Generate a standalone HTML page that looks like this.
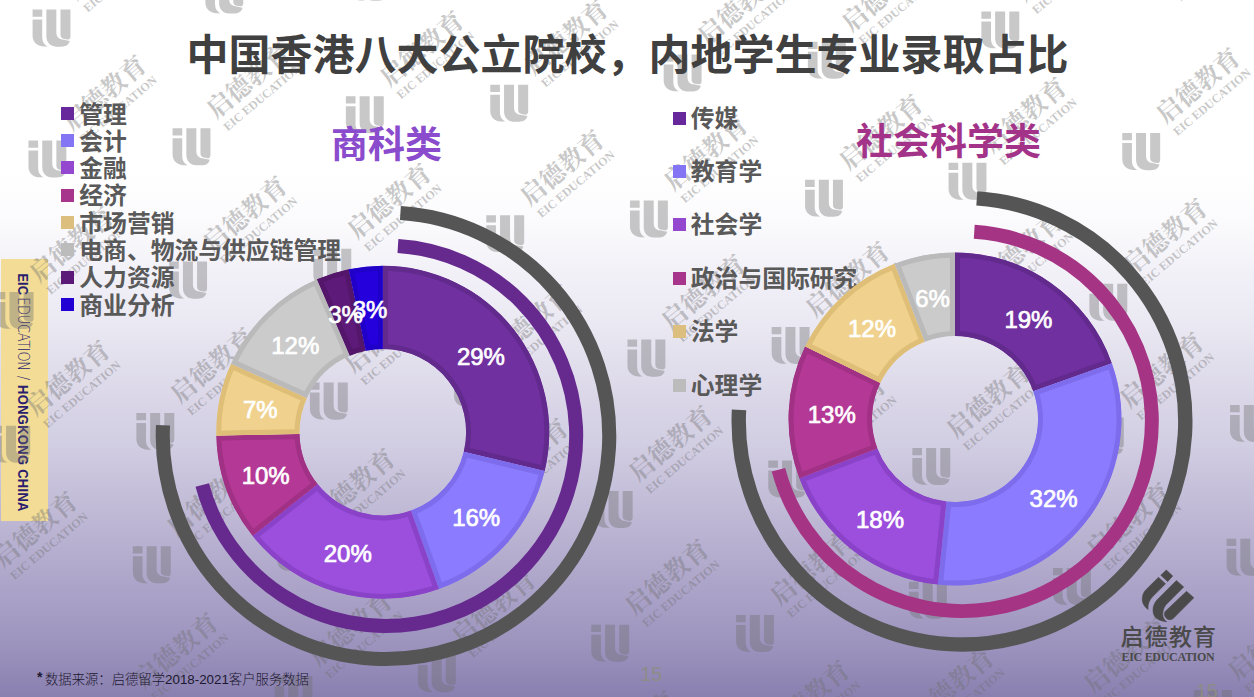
<!DOCTYPE html>
<html lang="zh-CN">
<head>
<meta charset="utf-8">
<title>中国香港八大公立院校，内地学生专业录取占比</title>
<style>
*{margin:0;padding:0;box-sizing:border-box;}
html,body{width:1254px;height:697px;overflow:hidden;}
body{position:relative;background:#fff;font-family:"Liberation Sans","Noto Sans CJK SC",sans-serif;}
#bg{position:absolute;left:0;top:0;width:1254px;height:697px;
 background:linear-gradient(to bottom,#ffffff 0px,#ffffff 170px,rgb(251,251,253) 220px,rgb(240,238,246) 285px,rgb(234,232,242) 325px,rgb(217,213,231) 405px,rgb(212,208,228) 435px,rgb(192,186,214) 510px,rgb(158,149,191) 640px,rgb(138,128,176) 697px);}
#bar{position:absolute;left:1px;top:259px;width:47px;height:262px;background:#f2dc96;}
#bartext{position:absolute;left:23px;top:273px;width:0;height:0;}
#bartext span.in{position:absolute;left:0;top:-7.5px;transform-origin:0 7.5px;transform:rotate(90deg) scaleX(0.86);white-space:nowrap;
 font-family:"Liberation Sans","DejaVu Sans",sans-serif;font-size:15px;color:#2a1d6e;line-height:15px;}
#bartext b{font-weight:bold;}
#bartext b:last-child{letter-spacing:0.4px;}
#bartext i{font-style:normal;font-weight:200;font-family:"DejaVu Sans",sans-serif;letter-spacing:-0.3px;}
#bartext i.sl{margin:0 6px;}
.abs{position:absolute;white-space:nowrap;}
#title{left:186.5px;top:20.5px;font-size:42px;font-weight:bold;color:#404040;font-family:"Liberation Sans","Noto Sans CJK SC",sans-serif;letter-spacing:0px;}
.sub{font-size:37px;font-weight:bold;font-family:"Liberation Sans","Noto Sans CJK SC",sans-serif;}
#sub1{left:331px;top:114.5px;color:#8a4bcc;}
#sub2{left:856px;top:112px;color:#a23389;}
.lt{position:absolute;letter-spacing:0px;font-size:23.8px;font-weight:bold;color:#595959;font-family:"Liberation Sans","Noto Sans CJK SC",sans-serif;white-space:nowrap;line-height:24px;}
.lm{position:absolute;width:13.2px;height:13px;}
svg{position:absolute;left:0;top:0;}
.wz{font-family:"Liberation Serif","Noto Serif CJK SC",serif;font-size:25px;font-weight:bold;}
.we{font-family:"Liberation Serif",serif;font-size:12px;font-weight:bold;}
.lbl{font-family:"Liberation Sans",sans-serif;font-weight:normal;font-size:24px;fill:#fff;stroke:#fff;stroke-width:0.7px;text-anchor:middle;}
#foot{left:37px;top:669px;font-size:13.35px;font-weight:300;color:#1c1830;font-family:"Liberation Sans","Noto Sans CJK SC",sans-serif;}
#foot sup{font-size:14px;font-weight:bold;vertical-align:2px;margin-right:2.5px;}
#pg{left:640.5px;top:663px;font-size:19.5px;color:#8d8c88;font-family:"Liberation Sans",sans-serif;}
#pg2{left:1196px;top:680px;font-size:19.5px;color:#8d8c88;font-family:"Liberation Sans",sans-serif;}
#logo1{left:1120.5px;top:622px;font-size:23px;line-height:30px;font-weight:500;color:#4a4a4a;font-family:"Liberation Sans","Noto Sans CJK SC",sans-serif;letter-spacing:1.2px;}
#logo2{left:1121.5px;top:650px;font-size:12px;line-height:14px;font-weight:bold;color:#4a4a4a;font-family:"Liberation Serif",serif;letter-spacing:-0.3px;}
</style>
</head>
<body>
<div id="bg"></div>
<div id="bar"></div>
<div id="bartext"><span class="in"><b>EIC</b><i style="margin-left:2.5px">EDUCATION</i><i class="sl">/</i><b>HONGKONG CHINA</b></span></div>
<svg class="wm" width="1254" height="697" viewBox="0 0 1254 697">
<g fill="#6e6e6e" fill-opacity="0.38">
<path transform="translate(-45.0,571.5) scale(0.06887)" d="M65,80H205V185H65ZM65,225H205V470C205,545 230,585 285,615H215C120,605 65,545 65,460ZM265,80H410V410C410,470 440,505 500,515L605,535C590,590 550,618 480,618H410C320,618 265,555 265,465ZM470,80H615V470C615,500 600,515 575,515L520,505C490,495 470,480 470,450Z"/>
<path transform="translate(-48.4,705.3) scale(0.06887)" d="M65,80H205V185H65ZM65,225H205V470C205,545 230,585 285,615H215C120,605 65,545 65,460ZM265,80H410V410C410,470 440,505 500,515L605,535C590,590 550,618 480,618H410C320,618 265,555 265,465ZM470,80H615V470C615,500 600,515 575,515L520,505C490,495 470,480 470,450Z"/>
<path transform="translate(95.7,692.6) scale(0.06887)" d="M65,80H205V185H65ZM65,225H205V470C205,545 230,585 285,615H215C120,605 65,545 65,460ZM265,80H410V410C410,470 440,505 500,515L605,535C590,590 550,618 480,618H410C320,618 265,555 265,465ZM470,80H615V470C615,500 600,515 575,515L520,505C490,495 470,480 470,450Z"/>
<path transform="translate(-8.8,286.4) scale(0.06887)" d="M65,80H205V185H65ZM65,225H205V470C205,545 230,585 285,615H215C120,605 65,545 65,460ZM265,80H410V410C410,470 440,505 500,515L605,535C590,590 550,618 480,618H410C320,618 265,555 265,465ZM470,80H615V470C615,500 600,515 575,515L520,505C490,495 470,480 470,450Z"/>
<path transform="translate(-12.2,420.2) scale(0.06887)" d="M65,80H205V185H65ZM65,225H205V470C205,545 230,585 285,615H215C120,605 65,545 65,460ZM265,80H410V410C410,470 440,505 500,515L605,535C590,590 550,618 480,618H410C320,618 265,555 265,465ZM470,80H615V470C615,500 600,515 575,515L520,505C490,495 470,480 470,450Z"/>
<path transform="translate(131.9,407.4) scale(0.06887)" d="M65,80H205V185H65ZM65,225H205V470C205,545 230,585 285,615H215C120,605 65,545 65,460ZM265,80H410V410C410,470 440,505 500,515L605,535C590,590 550,618 480,618H410C320,618 265,555 265,465ZM470,80H615V470C615,500 600,515 575,515L520,505C490,495 470,480 470,450Z"/>
<path transform="translate(128.4,540.8) scale(0.06887)" d="M65,80H205V185H65ZM65,225H205V470C205,545 230,585 285,615H215C120,605 65,545 65,460ZM265,80H410V410C410,470 440,505 500,515L605,535C590,590 550,618 480,618H410C320,618 265,555 265,465ZM470,80H615V470C615,500 600,515 575,515L520,505C490,495 470,480 470,450Z"/>
<path transform="translate(272.7,528.5) scale(0.06887)" d="M65,80H205V185H65ZM65,225H205V470C205,545 230,585 285,615H215C120,605 65,545 65,460ZM265,80H410V410C410,470 440,505 500,515L605,535C590,590 550,618 480,618H410C320,618 265,555 265,465ZM470,80H615V470C615,500 600,515 575,515L520,505C490,495 470,480 470,450Z"/>
<path transform="translate(270.1,670.6) scale(0.06887)" d="M65,80H205V185H65ZM65,225H205V470C205,545 230,585 285,615H215C120,605 65,545 65,460ZM265,80H410V410C410,470 440,505 500,515L605,535C590,590 550,618 480,618H410C320,618 265,555 265,465ZM470,80H615V470C615,500 600,515 575,515L520,505C490,495 470,480 470,450Z"/>
<path transform="translate(413.4,649.6) scale(0.06887)" d="M65,80H205V185H65ZM65,225H205V470C205,545 230,585 285,615H215C120,605 65,545 65,460ZM265,80H410V410C410,470 440,505 500,515L605,535C590,590 550,618 480,618H410C320,618 265,555 265,465ZM470,80H615V470C615,500 600,515 575,515L520,505C490,495 470,480 470,450Z"/>
<path transform="translate(28.1,4.1) scale(0.06887)" d="M65,80H205V185H65ZM65,225H205V470C205,545 230,585 285,615H215C120,605 65,545 65,460ZM265,80H410V410C410,470 440,505 500,515L605,535C590,590 550,618 480,618H410C320,618 265,555 265,465ZM470,80H615V470C615,500 600,515 575,515L520,505C490,495 470,480 470,450Z"/>
<path transform="translate(24.0,135.0) scale(0.06887)" d="M65,80H205V185H65ZM65,225H205V470C205,545 230,585 285,615H215C120,605 65,545 65,460ZM265,80H410V410C410,470 440,505 500,515L605,535C590,590 550,618 480,618H410C320,618 265,555 265,465ZM470,80H615V470C615,500 600,515 575,515L520,505C490,495 470,480 470,450Z"/>
<path transform="translate(168.1,122.8) scale(0.06887)" d="M65,80H205V185H65ZM65,225H205V470C205,545 230,585 285,615H215C120,605 65,545 65,460ZM265,80H410V410C410,470 440,505 500,515L605,535C590,590 550,618 480,618H410C320,618 265,555 265,465ZM470,80H615V470C615,500 600,515 575,515L520,505C490,495 470,480 470,450Z"/>
<path transform="translate(164.7,256.1) scale(0.06887)" d="M65,80H205V185H65ZM65,225H205V470C205,545 230,585 285,615H215C120,605 65,545 65,460ZM265,80H410V410C410,470 440,505 500,515L605,535C590,590 550,618 480,618H410C320,618 265,555 265,465ZM470,80H615V470C615,500 600,515 575,515L520,505C490,495 470,480 470,450Z"/>
<path transform="translate(308.9,243.3) scale(0.06887)" d="M65,80H205V185H65ZM65,225H205V470C205,545 230,585 285,615H215C120,605 65,545 65,460ZM265,80H410V410C410,470 440,505 500,515L605,535C590,590 550,618 480,618H410C320,618 265,555 265,465ZM470,80H615V470C615,500 600,515 575,515L520,505C490,495 470,480 470,450Z"/>
<path transform="translate(305.4,377.1) scale(0.06887)" d="M65,80H205V185H65ZM65,225H205V470C205,545 230,585 285,615H215C120,605 65,545 65,460ZM265,80H410V410C410,470 440,505 500,515L605,535C590,590 550,618 480,618H410C320,618 265,555 265,465ZM470,80H615V470C615,500 600,515 575,515L520,505C490,495 470,480 470,450Z"/>
<path transform="translate(449.6,364.4) scale(0.06887)" d="M65,80H205V185H65ZM65,225H205V470C205,545 230,585 285,615H215C120,605 65,545 65,460ZM265,80H410V410C410,470 440,505 500,515L605,535C590,590 550,618 480,618H410C320,618 265,555 265,465ZM470,80H615V470C615,500 600,515 575,515L520,505C490,495 470,480 470,450Z"/>
<path transform="translate(446.1,498.2) scale(0.06887)" d="M65,80H205V185H65ZM65,225H205V470C205,545 230,585 285,615H215C120,605 65,545 65,460ZM265,80H410V410C410,470 440,505 500,515L605,535C590,590 550,618 480,618H410C320,618 265,555 265,465ZM470,80H615V470C615,500 600,515 575,515L520,505C490,495 470,480 470,450Z"/>
<path transform="translate(590.3,485.5) scale(0.06887)" d="M65,80H205V185H65ZM65,225H205V470C205,545 230,585 285,615H215C120,605 65,545 65,460ZM265,80H410V410C410,470 440,505 500,515L605,535C590,590 550,618 480,618H410C320,618 265,555 265,465ZM470,80H615V470C615,500 600,515 575,515L520,505C490,495 470,480 470,450Z"/>
<path transform="translate(586.8,619.2) scale(0.06887)" d="M65,80H205V185H65ZM65,225H205V470C205,545 230,585 285,615H215C120,605 65,545 65,460ZM265,80H410V410C410,470 440,505 500,515L605,535C590,590 550,618 480,618H410C320,618 265,555 265,465ZM470,80H615V470C615,500 600,515 575,515L520,505C490,495 470,480 470,450Z"/>
<path transform="translate(731.6,609.5) scale(0.06887)" d="M65,80H205V185H65ZM65,225H205V470C205,545 230,585 285,615H215C120,605 65,545 65,460ZM265,80H410V410C410,470 440,505 500,515L605,535C590,590 550,618 480,618H410C320,618 265,555 265,465ZM470,80H615V470C615,500 600,515 575,515L520,505C490,495 470,480 470,450Z"/>
<path transform="translate(200.9,-29.1) scale(0.06887)" d="M65,80H205V185H65ZM65,225H205V470C205,545 230,585 285,615H215C120,605 65,545 65,460ZM265,80H410V410C410,470 440,505 500,515L605,535C590,590 550,618 480,618H410C320,618 265,555 265,465ZM470,80H615V470C615,500 600,515 575,515L520,505C490,495 470,480 470,450Z"/>
<path transform="translate(345.1,-41.8) scale(0.06887)" d="M65,80H205V185H65ZM65,225H205V470C205,545 230,585 285,615H215C120,605 65,545 65,460ZM265,80H410V410C410,470 440,505 500,515L605,535C590,590 550,618 480,618H410C320,618 265,555 265,465ZM470,80H615V470C615,500 600,515 575,515L520,505C490,495 470,480 470,450Z"/>
<path transform="translate(341.4,90.8) scale(0.06887)" d="M65,80H205V185H65ZM65,225H205V470C205,545 230,585 285,615H215C120,605 65,545 65,460ZM265,80H410V410C410,470 440,505 500,515L605,535C590,590 550,618 480,618H410C320,618 265,555 265,465ZM470,80H615V470C615,500 600,515 575,515L520,505C490,495 470,480 470,450Z"/>
<path transform="translate(485.8,79.2) scale(0.06887)" d="M65,80H205V185H65ZM65,225H205V470C205,545 230,585 285,615H215C120,605 65,545 65,460ZM265,80H410V410C410,470 440,505 500,515L605,535C590,590 550,618 480,618H410C320,618 265,555 265,465ZM470,80H615V470C615,500 600,515 575,515L520,505C490,495 470,480 470,450Z"/>
<path transform="translate(481.8,209.7) scale(0.06887)" d="M65,80H205V185H65ZM65,225H205V470C205,545 230,585 285,615H215C120,605 65,545 65,460ZM265,80H410V410C410,470 440,505 500,515L605,535C590,590 550,618 480,618H410C320,618 265,555 265,465ZM470,80H615V470C615,500 600,515 575,515L520,505C490,495 470,480 470,450Z"/>
<path transform="translate(625.5,194.9) scale(0.06887)" d="M65,80H205V185H65ZM65,225H205V470C205,545 230,585 285,615H215C120,605 65,545 65,460ZM265,80H410V410C410,470 440,505 500,515L605,535C590,590 550,618 480,618H410C320,618 265,555 265,465ZM470,80H615V470C615,500 600,515 575,515L520,505C490,495 470,480 470,450Z"/>
<path transform="translate(623.0,334.1) scale(0.06887)" d="M65,80H205V185H65ZM65,225H205V470C205,545 230,585 285,615H215C120,605 65,545 65,460ZM265,80H410V410C410,470 440,505 500,515L605,535C590,590 550,618 480,618H410C320,618 265,555 265,465ZM470,80H615V470C615,500 600,515 575,515L520,505C490,495 470,480 470,450Z"/>
<path transform="translate(767.2,321.4) scale(0.06887)" d="M65,80H205V185H65ZM65,225H205V470C205,545 230,585 285,615H215C120,605 65,545 65,460ZM265,80H410V410C410,470 440,505 500,515L605,535C590,590 550,618 480,618H410C320,618 265,555 265,465ZM470,80H615V470C615,500 600,515 575,515L520,505C490,495 470,480 470,450Z"/>
<path transform="translate(763.8,455.1) scale(0.06887)" d="M65,80H205V185H65ZM65,225H205V470C205,545 230,585 285,615H215C120,605 65,545 65,460ZM265,80H410V410C410,470 440,505 500,515L605,535C590,590 550,618 480,618H410C320,618 265,555 265,465ZM470,80H615V470C615,500 600,515 575,515L520,505C490,495 470,480 470,450Z"/>
<path transform="translate(907.9,442.4) scale(0.06887)" d="M65,80H205V185H65ZM65,225H205V470C205,545 230,585 285,615H215C120,605 65,545 65,460ZM265,80H410V410C410,470 440,505 500,515L605,535C590,590 550,618 480,618H410C320,618 265,555 265,465ZM470,80H615V470C615,500 600,515 575,515L520,505C490,495 470,480 470,450Z"/>
<path transform="translate(904.5,576.2) scale(0.06887)" d="M65,80H205V185H65ZM65,225H205V470C205,545 230,585 285,615H215C120,605 65,545 65,460ZM265,80H410V410C410,470 440,505 500,515L605,535C590,590 550,618 480,618H410C320,618 265,555 265,465ZM470,80H615V470C615,500 600,515 575,515L520,505C490,495 470,480 470,450Z"/>
<path transform="translate(1048.5,562.5) scale(0.06887)" d="M65,80H205V185H65ZM65,225H205V470C205,545 230,585 285,615H215C120,605 65,545 65,460ZM265,80H410V410C410,470 440,505 500,515L605,535C590,590 550,618 480,618H410C320,618 265,555 265,465ZM470,80H615V470C615,500 600,515 575,515L520,505C490,495 470,480 470,450Z"/>
<path transform="translate(1045.2,697.3) scale(0.06887)" d="M65,80H205V185H65ZM65,225H205V470C205,545 230,585 285,615H215C120,605 65,545 65,460ZM265,80H410V410C410,470 440,505 500,515L605,535C590,590 550,618 480,618H410C320,618 265,555 265,465ZM470,80H615V470C615,500 600,515 575,515L520,505C490,495 470,480 470,450Z"/>
<path transform="translate(1189.4,684.5) scale(0.06887)" d="M65,80H205V185H65ZM65,225H205V470C205,545 230,585 285,615H215C120,605 65,545 65,460ZM265,80H410V410C410,470 440,505 500,515L605,535C590,590 550,618 480,618H410C320,618 265,555 265,465ZM470,80H615V470C615,500 600,515 575,515L520,505C490,495 470,480 470,450Z"/>
<path transform="translate(659.2,48.9) scale(0.06887)" d="M65,80H205V185H65ZM65,225H205V470C205,545 230,585 285,615H215C120,605 65,545 65,460ZM265,80H410V410C410,470 440,505 500,515L605,535C590,590 550,618 480,618H410C320,618 265,555 265,465ZM470,80H615V470C615,500 600,515 575,515L520,505C490,495 470,480 470,450Z"/>
<path transform="translate(803.4,36.2) scale(0.06887)" d="M65,80H205V185H65ZM65,225H205V470C205,545 230,585 285,615H215C120,605 65,545 65,460ZM265,80H410V410C410,470 440,505 500,515L605,535C590,590 550,618 480,618H410C320,618 265,555 265,465ZM470,80H615V470C615,500 600,515 575,515L520,505C490,495 470,480 470,450Z"/>
<path transform="translate(800.6,174.2) scale(0.06887)" d="M65,80H205V185H65ZM65,225H205V470C205,545 230,585 285,615H215C120,605 65,545 65,460ZM265,80H410V410C410,470 440,505 500,515L605,535C590,590 550,618 480,618H410C320,618 265,555 265,465ZM470,80H615V470C615,500 600,515 575,515L520,505C490,495 470,480 470,450Z"/>
<path transform="translate(944.1,157.3) scale(0.06887)" d="M65,80H205V185H65ZM65,225H205V470C205,545 230,585 285,615H215C120,605 65,545 65,460ZM265,80H410V410C410,470 440,505 500,515L605,535C590,590 550,618 480,618H410C320,618 265,555 265,465ZM470,80H615V470C615,500 600,515 575,515L520,505C490,495 470,480 470,450Z"/>
<path transform="translate(940.7,291.0) scale(0.06887)" d="M65,80H205V185H65ZM65,225H205V470C205,545 230,585 285,615H215C120,605 65,545 65,460ZM265,80H410V410C410,470 440,505 500,515L605,535C590,590 550,618 480,618H410C320,618 265,555 265,465ZM470,80H615V470C615,500 600,515 575,515L520,505C490,495 470,480 470,450Z"/>
<path transform="translate(1084.9,278.3) scale(0.06887)" d="M65,80H205V185H65ZM65,225H205V470C205,545 230,585 285,615H215C120,605 65,545 65,460ZM265,80H410V410C410,470 440,505 500,515L605,535C590,590 550,618 480,618H410C320,618 265,555 265,465ZM470,80H615V470C615,500 600,515 575,515L520,505C490,495 470,480 470,450Z"/>
<path transform="translate(1081.4,412.1) scale(0.06887)" d="M65,80H205V185H65ZM65,225H205V470C205,545 230,585 285,615H215C120,605 65,545 65,460ZM265,80H410V410C410,470 440,505 500,515L605,535C590,590 550,618 480,618H410C320,618 265,555 265,465ZM470,80H615V470C615,500 600,515 575,515L520,505C490,495 470,480 470,450Z"/>
<path transform="translate(1225.6,399.4) scale(0.06887)" d="M65,80H205V185H65ZM65,225H205V470C205,545 230,585 285,615H215C120,605 65,545 65,460ZM265,80H410V410C410,470 440,505 500,515L605,535C590,590 550,618 480,618H410C320,618 265,555 265,465ZM470,80H615V470C615,500 600,515 575,515L520,505C490,495 470,480 470,450Z"/>
<path transform="translate(1222.1,533.2) scale(0.06887)" d="M65,80H205V185H65ZM65,225H205V470C205,545 230,585 285,615H215C120,605 65,545 65,460ZM265,80H410V410C410,470 440,505 500,515L605,535C590,590 550,618 480,618H410C320,618 265,555 265,465ZM470,80H615V470C615,500 600,515 575,515L520,505C490,495 470,480 470,450Z"/>
<path transform="translate(976.9,5.9) scale(0.06887)" d="M65,80H205V185H65ZM65,225H205V470C205,545 230,585 285,615H215C120,605 65,545 65,460ZM265,80H410V410C410,470 440,505 500,515L605,535C590,590 550,618 480,618H410C320,618 265,555 265,465ZM470,80H615V470C615,500 600,515 575,515L520,505C490,495 470,480 470,450Z"/>
<path transform="translate(1117.8,127.6) scale(0.06887)" d="M65,80H205V185H65ZM65,225H205V470C205,545 230,585 285,615H215C120,605 65,545 65,460ZM265,80H410V410C410,470 440,505 500,515L605,535C590,590 550,618 480,618H410C320,618 265,555 265,465ZM470,80H615V470C615,500 600,515 575,515L520,505C490,495 470,480 470,450Z"/>
<path transform="translate(1261.8,114.2) scale(0.06887)" d="M65,80H205V185H65ZM65,225H205V470C205,545 230,585 285,615H215C120,605 65,545 65,460ZM265,80H410V410C410,470 440,505 500,515L605,535C590,590 550,618 480,618H410C320,618 265,555 265,465ZM470,80H615V470C615,500 600,515 575,515L520,505C490,495 470,480 470,450Z"/>
<path transform="translate(1258.3,248.0) scale(0.06887)" d="M65,80H205V185H65ZM65,225H205V470C205,545 230,585 285,615H215C120,605 65,545 65,460ZM265,80H410V410C410,470 440,505 500,515L605,535C590,590 550,618 480,618H410C320,618 265,555 265,465ZM470,80H615V470C615,500 600,515 575,515L520,505C490,495 470,480 470,450Z"/>
</g>
<g fill="#6e6e6e" fill-opacity="0.38" text-anchor="middle">
<g transform="translate(35.3,529.5) rotate(-40)"><text y="9" class="wz">启德教育</text><text y="25.5" class="we">EIC EDUCATION</text></g>
<g transform="translate(176.1,650.6) rotate(-40)"><text y="9" class="wz">启德教育</text><text y="25.5" class="we">EIC EDUCATION</text></g>
<g transform="translate(71.5,244.4) rotate(-40)"><text y="9" class="wz">启德教育</text><text y="25.5" class="we">EIC EDUCATION</text></g>
<g transform="translate(68.1,378.1) rotate(-40)"><text y="9" class="wz">启德教育</text><text y="25.5" class="we">EIC EDUCATION</text></g>
<g transform="translate(212.3,365.4) rotate(-40)"><text y="9" class="wz">启德教育</text><text y="25.5" class="we">EIC EDUCATION</text></g>
<g transform="translate(208.7,498.8) rotate(-40)"><text y="9" class="wz">启德教育</text><text y="25.5" class="we">EIC EDUCATION</text></g>
<g transform="translate(353.0,486.5) rotate(-40)"><text y="9" class="wz">启德教育</text><text y="25.5" class="we">EIC EDUCATION</text></g>
<g transform="translate(350.4,628.6) rotate(-40)"><text y="9" class="wz">启德教育</text><text y="25.5" class="we">EIC EDUCATION</text></g>
<g transform="translate(493.7,607.5) rotate(-40)"><text y="9" class="wz">启德教育</text><text y="25.5" class="we">EIC EDUCATION</text></g>
<g transform="translate(490.2,741.3) rotate(-40)"><text y="9" class="wz">启德教育</text><text y="25.5" class="we">EIC EDUCATION</text></g>
<g transform="translate(634.4,728.6) rotate(-40)"><text y="9" class="wz">启德教育</text><text y="25.5" class="we">EIC EDUCATION</text></g>
<g transform="translate(-36.4,-28.1) rotate(-40)"><text y="9" class="wz">启德教育</text><text y="25.5" class="we">EIC EDUCATION</text></g>
<g transform="translate(108.4,-37.9) rotate(-40)"><text y="9" class="wz">启德教育</text><text y="25.5" class="we">EIC EDUCATION</text></g>
<g transform="translate(104.3,93.0) rotate(-40)"><text y="9" class="wz">启德教育</text><text y="25.5" class="we">EIC EDUCATION</text></g>
<g transform="translate(248.4,80.8) rotate(-40)"><text y="9" class="wz">启德教育</text><text y="25.5" class="we">EIC EDUCATION</text></g>
<g transform="translate(245.0,214.0) rotate(-40)"><text y="9" class="wz">启德教育</text><text y="25.5" class="we">EIC EDUCATION</text></g>
<g transform="translate(389.2,201.3) rotate(-40)"><text y="9" class="wz">启德教育</text><text y="25.5" class="we">EIC EDUCATION</text></g>
<g transform="translate(385.7,335.1) rotate(-40)"><text y="9" class="wz">启德教育</text><text y="25.5" class="we">EIC EDUCATION</text></g>
<g transform="translate(529.9,322.4) rotate(-40)"><text y="9" class="wz">启德教育</text><text y="25.5" class="we">EIC EDUCATION</text></g>
<g transform="translate(526.4,456.2) rotate(-40)"><text y="9" class="wz">启德教育</text><text y="25.5" class="we">EIC EDUCATION</text></g>
<g transform="translate(670.6,443.5) rotate(-40)"><text y="9" class="wz">启德教育</text><text y="25.5" class="we">EIC EDUCATION</text></g>
<g transform="translate(667.1,577.2) rotate(-40)"><text y="9" class="wz">启德教育</text><text y="25.5" class="we">EIC EDUCATION</text></g>
<g transform="translate(811.9,567.5) rotate(-40)"><text y="9" class="wz">启德教育</text><text y="25.5" class="we">EIC EDUCATION</text></g>
<g transform="translate(807.9,698.3) rotate(-40)"><text y="9" class="wz">启德教育</text><text y="25.5" class="we">EIC EDUCATION</text></g>
<g transform="translate(952.1,685.6) rotate(-40)"><text y="9" class="wz">启德教育</text><text y="25.5" class="we">EIC EDUCATION</text></g>
<g transform="translate(421.7,48.8) rotate(-40)"><text y="9" class="wz">启德教育</text><text y="25.5" class="we">EIC EDUCATION</text></g>
<g transform="translate(566.1,37.2) rotate(-40)"><text y="9" class="wz">启德教育</text><text y="25.5" class="we">EIC EDUCATION</text></g>
<g transform="translate(562.1,167.7) rotate(-40)"><text y="9" class="wz">启德教育</text><text y="25.5" class="we">EIC EDUCATION</text></g>
<g transform="translate(705.8,152.9) rotate(-40)"><text y="9" class="wz">启德教育</text><text y="25.5" class="we">EIC EDUCATION</text></g>
<g transform="translate(703.3,292.1) rotate(-40)"><text y="9" class="wz">启德教育</text><text y="25.5" class="we">EIC EDUCATION</text></g>
<g transform="translate(847.5,279.4) rotate(-40)"><text y="9" class="wz">启德教育</text><text y="25.5" class="we">EIC EDUCATION</text></g>
<g transform="translate(844.1,413.1) rotate(-40)"><text y="9" class="wz">启德教育</text><text y="25.5" class="we">EIC EDUCATION</text></g>
<g transform="translate(988.3,400.4) rotate(-40)"><text y="9" class="wz">启德教育</text><text y="25.5" class="we">EIC EDUCATION</text></g>
<g transform="translate(984.8,534.2) rotate(-40)"><text y="9" class="wz">启德教育</text><text y="25.5" class="we">EIC EDUCATION</text></g>
<g transform="translate(1128.8,520.5) rotate(-40)"><text y="9" class="wz">启德教育</text><text y="25.5" class="we">EIC EDUCATION</text></g>
<g transform="translate(1125.5,655.2) rotate(-40)"><text y="9" class="wz">启德教育</text><text y="25.5" class="we">EIC EDUCATION</text></g>
<g transform="translate(1269.7,642.5) rotate(-40)"><text y="9" class="wz">启德教育</text><text y="25.5" class="we">EIC EDUCATION</text></g>
<g transform="translate(739.5,6.9) rotate(-40)"><text y="9" class="wz">启德教育</text><text y="25.5" class="we">EIC EDUCATION</text></g>
<g transform="translate(883.7,-5.8) rotate(-40)"><text y="9" class="wz">启德教育</text><text y="25.5" class="we">EIC EDUCATION</text></g>
<g transform="translate(880.9,132.2) rotate(-40)"><text y="9" class="wz">启德教育</text><text y="25.5" class="we">EIC EDUCATION</text></g>
<g transform="translate(1024.5,115.2) rotate(-40)"><text y="9" class="wz">启德教育</text><text y="25.5" class="we">EIC EDUCATION</text></g>
<g transform="translate(1021.0,249.0) rotate(-40)"><text y="9" class="wz">启德教育</text><text y="25.5" class="we">EIC EDUCATION</text></g>
<g transform="translate(1165.2,236.3) rotate(-40)"><text y="9" class="wz">启德教育</text><text y="25.5" class="we">EIC EDUCATION</text></g>
<g transform="translate(1161.7,370.1) rotate(-40)"><text y="9" class="wz">启德教育</text><text y="25.5" class="we">EIC EDUCATION</text></g>
<g transform="translate(1305.9,357.4) rotate(-40)"><text y="9" class="wz">启德教育</text><text y="25.5" class="we">EIC EDUCATION</text></g>
<g transform="translate(1302.4,491.1) rotate(-40)"><text y="9" class="wz">启德教育</text><text y="25.5" class="we">EIC EDUCATION</text></g>
<g transform="translate(1057.2,-36.1) rotate(-40)"><text y="9" class="wz">启德教育</text><text y="25.5" class="we">EIC EDUCATION</text></g>
<g transform="translate(1201.4,-48.9) rotate(-40)"><text y="9" class="wz">启德教育</text><text y="25.5" class="we">EIC EDUCATION</text></g>
<g transform="translate(1198.1,85.6) rotate(-40)"><text y="9" class="wz">启德教育</text><text y="25.5" class="we">EIC EDUCATION</text></g>
</g></svg>
<div id="title" class="abs">中国香港八大公立院校，内地学生专业录取占比</div>
<div id="sub1" class="abs sub">商科类</div>
<div id="sub2" class="abs sub">社会科学类</div>
<div class="lm" style="left:60.6px;top:106.8px;background:#66289a"></div><div class="lt" style="left:79.3px;top:102.5px">管理</div>
<div class="lm" style="left:60.6px;top:134.1px;background:#8475f5"></div><div class="lt" style="left:79.3px;top:129.8px">会计</div>
<div class="lm" style="left:60.6px;top:161.4px;background:#9448d0"></div><div class="lt" style="left:79.3px;top:157.1px">金融</div>
<div class="lm" style="left:60.6px;top:188.7px;background:#a8358c"></div><div class="lt" style="left:79.3px;top:184.4px">经济</div>
<div class="lm" style="left:60.6px;top:216.0px;background:#dcbe7e"></div><div class="lt" style="left:79.3px;top:211.7px">市场营销</div>
<div class="lm" style="left:60.6px;top:243.3px;background:#bcbcbc"></div><div class="lt" style="left:79.3px;top:239.0px">电商、物流与供应链管理</div>
<div class="lm" style="left:60.6px;top:270.6px;background:#5c1a78"></div><div class="lt" style="left:79.3px;top:266.3px">人力资源</div>
<div class="lm" style="left:60.6px;top:297.9px;background:#2200d4"></div><div class="lt" style="left:79.3px;top:293.6px">商业分析</div>
<div class="lm" style="left:673.2px;top:111.5px;background:#66289a"></div><div class="lt" style="left:690.8px;top:106.5px">传媒</div>
<div class="lm" style="left:673.2px;top:164.9px;background:#8475f5"></div><div class="lt" style="left:690.8px;top:159.9px">教育学</div>
<div class="lm" style="left:673.2px;top:218.3px;background:#9448d0"></div><div class="lt" style="left:690.8px;top:213.3px">社会学</div>
<div class="lm" style="left:673.2px;top:271.7px;background:#a8358c"></div><div class="lt" style="left:690.8px;top:266.7px">政治与国际研究</div>
<div class="lm" style="left:673.2px;top:325.1px;background:#dcbe7e"></div><div class="lt" style="left:690.8px;top:320.1px">法学</div>
<div class="lm" style="left:673.2px;top:378.5px;background:#bcbcbc"></div><div class="lt" style="left:690.8px;top:373.5px">心理学</div>
<svg width="1254" height="697" viewBox="0 0 1254 697">
<clipPath id="L0"><path d="M382.80,265.70 A166.5,166.5 0 0 1 544.70,471.07 L463.80,451.65 A83.3,83.3 0 0 0 382.80,348.90 Z"/></clipPath>
<path d="M382.80,265.70 A166.5,166.5 0 0 1 544.70,471.07 L463.80,451.65 A83.3,83.3 0 0 0 382.80,348.90 Z" fill="#7030a0" stroke="#632a8e" stroke-width="10" clip-path="url(#L0)"/>
<clipPath id="L1"><path d="M544.70,471.07 A166.5,166.5 0 0 1 438.93,588.95 L410.88,510.62 A83.3,83.3 0 0 0 463.80,451.65 Z"/></clipPath>
<path d="M544.70,471.07 A166.5,166.5 0 0 1 438.93,588.95 L410.88,510.62 A83.3,83.3 0 0 0 463.80,451.65 Z" fill="#8b7bff" stroke="#7d6cec" stroke-width="10" clip-path="url(#L1)"/>
<clipPath id="L2"><path d="M438.93,588.95 A166.5,166.5 0 0 1 252.50,535.85 L317.61,484.06 A83.3,83.3 0 0 0 410.88,510.62 Z"/></clipPath>
<path d="M438.93,588.95 A166.5,166.5 0 0 1 252.50,535.85 L317.61,484.06 A83.3,83.3 0 0 0 410.88,510.62 Z" fill="#9b4fdc" stroke="#8a43c8" stroke-width="10" clip-path="url(#L2)"/>
<clipPath id="L3"><path d="M252.50,535.85 A166.5,166.5 0 0 1 216.34,435.69 L299.52,433.94 A83.3,83.3 0 0 0 317.61,484.06 Z"/></clipPath>
<path d="M252.50,535.85 A166.5,166.5 0 0 1 216.34,435.69 L299.52,433.94 A83.3,83.3 0 0 0 317.61,484.06 Z" fill="#b43896" stroke="#a03184" stroke-width="10" clip-path="url(#L3)"/>
<clipPath id="L4"><path d="M216.34,435.69 A166.5,166.5 0 0 1 231.05,363.68 L306.88,397.92 A83.3,83.3 0 0 0 299.52,433.94 Z"/></clipPath>
<path d="M216.34,435.69 A166.5,166.5 0 0 1 231.05,363.68 L306.88,397.92 A83.3,83.3 0 0 0 299.52,433.94 Z" fill="#f0d28e" stroke="#dfbf78" stroke-width="10" clip-path="url(#L4)"/>
<clipPath id="L5"><path d="M231.05,363.68 A166.5,166.5 0 0 1 316.94,279.28 L349.85,355.69 A83.3,83.3 0 0 0 306.88,397.92 Z"/></clipPath>
<path d="M231.05,363.68 A166.5,166.5 0 0 1 316.94,279.28 L349.85,355.69 A83.3,83.3 0 0 0 306.88,397.92 Z" fill="#cbcbcb" stroke="#bababa" stroke-width="10" clip-path="url(#L5)"/>
<clipPath id="L6"><path d="M316.94,279.28 A166.5,166.5 0 0 1 348.75,269.22 L365.77,350.66 A83.3,83.3 0 0 0 349.85,355.69 Z"/></clipPath>
<path d="M316.94,279.28 A166.5,166.5 0 0 1 348.75,269.22 L365.77,350.66 A83.3,83.3 0 0 0 349.85,355.69 Z" fill="#5e1a78" stroke="#53166a" stroke-width="10" clip-path="url(#L6)"/>
<clipPath id="L7"><path d="M348.75,269.22 A166.5,166.5 0 0 1 382.80,265.70 L382.80,348.90 A83.3,83.3 0 0 0 365.77,350.66 Z"/></clipPath>
<path d="M348.75,269.22 A166.5,166.5 0 0 1 382.80,265.70 L382.80,348.90 A83.3,83.3 0 0 0 365.77,350.66 Z" fill="#2500dc" stroke="#2000c8" stroke-width="10" clip-path="url(#L7)"/>
<clipPath id="R0"><path d="M955.00,252.50 A166.5,166.5 0 0 1 1111.85,363.15 L1033.19,391.16 A83.0,83.0 0 0 0 955.00,336.00 Z"/></clipPath>
<path d="M955.00,252.50 A166.5,166.5 0 0 1 1111.85,363.15 L1033.19,391.16 A83.0,83.0 0 0 0 955.00,336.00 Z" fill="#7030a0" stroke="#632a8e" stroke-width="10" clip-path="url(#R0)"/>
<clipPath id="R1"><path d="M1111.85,363.15 A166.5,166.5 0 0 1 937.89,584.62 L946.47,501.56 A83.0,83.0 0 0 0 1033.19,391.16 Z"/></clipPath>
<path d="M1111.85,363.15 A166.5,166.5 0 0 1 937.89,584.62 L946.47,501.56 A83.0,83.0 0 0 0 1033.19,391.16 Z" fill="#8b7bff" stroke="#7d6cec" stroke-width="10" clip-path="url(#R1)"/>
<clipPath id="R2"><path d="M937.89,584.62 A166.5,166.5 0 0 1 799.35,478.13 L877.41,448.47 A83.0,83.0 0 0 0 946.47,501.56 Z"/></clipPath>
<path d="M937.89,584.62 A166.5,166.5 0 0 1 799.35,478.13 L877.41,448.47 A83.0,83.0 0 0 0 946.47,501.56 Z" fill="#9b4fdc" stroke="#8a43c8" stroke-width="10" clip-path="url(#R2)"/>
<clipPath id="R3"><path d="M799.35,478.13 A166.5,166.5 0 0 1 805.10,346.53 L880.27,382.88 A83.0,83.0 0 0 0 877.41,448.47 Z"/></clipPath>
<path d="M799.35,478.13 A166.5,166.5 0 0 1 805.10,346.53 L880.27,382.88 A83.0,83.0 0 0 0 877.41,448.47 Z" fill="#b43896" stroke="#a03184" stroke-width="10" clip-path="url(#R3)"/>
<clipPath id="R4"><path d="M805.10,346.53 A166.5,166.5 0 0 1 894.52,263.87 L924.85,341.67 A83.0,83.0 0 0 0 880.27,382.88 Z"/></clipPath>
<path d="M805.10,346.53 A166.5,166.5 0 0 1 894.52,263.87 L924.85,341.67 A83.0,83.0 0 0 0 880.27,382.88 Z" fill="#f0d28e" stroke="#dfbf78" stroke-width="10" clip-path="url(#R4)"/>
<clipPath id="R5"><path d="M894.52,263.87 A166.5,166.5 0 0 1 955.00,252.50 L955.00,336.00 A83.0,83.0 0 0 0 924.85,341.67 Z"/></clipPath>
<path d="M894.52,263.87 A166.5,166.5 0 0 1 955.00,252.50 L955.00,336.00 A83.0,83.0 0 0 0 924.85,341.67 Z" fill="#cbcbcb" stroke="#bababa" stroke-width="10" clip-path="url(#R5)"/>
<path d="M400.41,213.02 A223.25,223.25 0 1 1 163.00,425.28" fill="none" stroke="#555555" stroke-width="14.1"/>
<path d="M397.94,245.98 A190.2,190.2 0 1 1 202.28,485.03" fill="none" stroke="#662a8f" stroke-width="14"/>
<path d="M976.80,198.39 A223.3,223.3 0 1 1 738.99,409.90" fill="none" stroke="#555555" stroke-width="14.4"/>
<path d="M974.25,231.75 A189.85,189.85 0 1 1 778.45,469.70" fill="none" stroke="#a63484" stroke-width="13.9"/>
<text x="480.9" y="364.8" class="lbl">29%</text>
<text x="476.2" y="526.3" class="lbl">16%</text>
<text x="347.8" y="562.0" class="lbl">20%</text>
<text x="265.7" y="483.9" class="lbl">10%</text>
<text x="260.3" y="417.6" class="lbl">7%</text>
<text x="295.3" y="353.9" class="lbl">12%</text>
<text x="345.5" y="323.1" class="lbl">3%</text>
<text x="370" y="318.1" class="lbl">3%</text>
<text x="1028.4" y="327.5" class="lbl">19%</text>
<text x="1053.6" y="507.1" class="lbl">32%</text>
<text x="880" y="527.8" class="lbl">18%</text>
<text x="831.8" y="423.1" class="lbl">13%</text>
<text x="872" y="336.9" class="lbl">12%</text>
<text x="932.5" y="306.8" class="lbl">6%</text>
<g transform="translate(1136,564) scale(0.09182)" fill="#4a4a4a" stroke="#4a4a4a" stroke-width="6" stroke-linejoin="round">
<path d="M270,122 L330,65 L400,130 L345,192 Z"/>
<path d="M245,145 L322,215 L180,357 C145,395 125,440 132,495 C95,470 65,425 68,380 C70,335 85,300 110,278 Z"/>
<path d="M440,180 L520,250 L330,440 C295,480 282,545 300,588 C310,608 320,620 335,628 C270,625 215,600 195,555 C175,505 185,440 230,390 Z"/>
<path d="M550,298 L630,368 L405,593 C385,610 355,612 335,595 C310,572 300,540 320,515 Z"/>
</g>
</svg>
<div id="foot" class="abs"><sup>*</sup>数据来源：启德留学2018-2021客户服务数据</div>
<div id="pg" class="abs">15</div>
<div id="pg2" class="abs">15</div>
<div id="logo1" class="abs">启德教育</div>
<div id="logo2" class="abs">EIC EDUCATION</div>
</body>
</html>
